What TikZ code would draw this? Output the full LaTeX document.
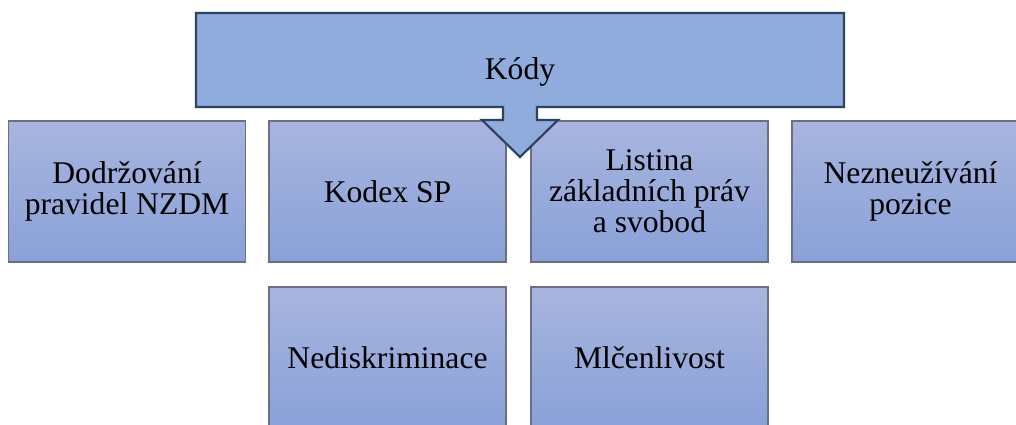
\documentclass[tikz,border=0pt]{standalone}
\usepackage{fontspec}
\setmainfont{Liberation Serif}
\usepackage{tikz}
\usetikzlibrary{positioning}

\definecolor{boxtop}{RGB}{168,181,222}
\definecolor{boxbot}{RGB}{137,161,216}
\definecolor{boxline}{RGB}{106,112,130}
\definecolor{kodfill}{RGB}{143,172,220}
\definecolor{kodline}{RGB}{43,69,96}

\tikzset{
  codebox/.style={rectangle, draw=boxline, line width=0.6pt,
    top color=boxtop, bottom color=boxbot,
    minimum width=118.5pt, minimum height=70.5pt, inner sep=2pt,
    align=center, font=\fontsize{15.8}{15.5}\selectfont},
  kodtext/.style={font=\fontsize{15.8}{15.5}\selectfont}
}

\begin{document}
\begin{tikzpicture}[x=0.5pt, y=-0.5pt]
  % frame of the picture (cut at right and bottom like the original)
  \useasboundingbox (0,0) rectangle (1016,424);
  \clip (0,0) rectangle (1016,424);

  % first row
  \node[codebox] (dodrzovani) at (127,191.5) {Dodržování\\pravidel NZDM};
  \node[codebox] (kodex) at (387.5,191.5) {Kodex SP};
  \node[codebox] (listina) at (649.5,191.5) {Listina\\základních práv\\a svobod};
  \node[codebox] (nezneuzivani) at (910.5,191.5) {Nezneužívání\\pozice};

  % second row
  \node[codebox] (nediskriminace) at (387.5,357.5) {Nediskriminace};
  \node[codebox] (mlcenlivost) at (649.5,357.5) {Mlčenlivost};

  % heading with down arrow
  \draw[kodline, fill=kodfill, line width=1.1pt, line join=miter]
    (196,13) -- (844,13) -- (844,107) -- (537,107) -- (537,120)
    -- (558,120) -- (520,157) -- (482,120) -- (503,120) -- (503,107)
    -- (196,107) -- cycle;
  \node[kodtext] (kody) at (520,72) {Kódy};
\end{tikzpicture}
\end{document}
